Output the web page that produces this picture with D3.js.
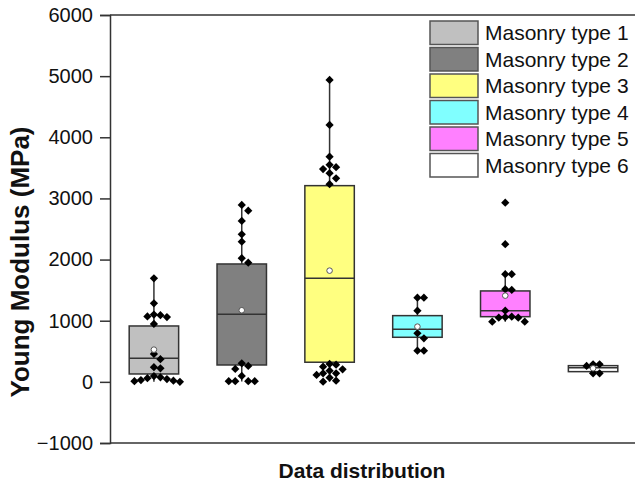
<!DOCTYPE html>
<html lang="en">
<head>
<meta charset="UTF-8">
<title>Young Modulus box chart</title>
<script src="https://d3js.org/d3.v7.min.js"></script>
<style>
  body { margin: 0; background: #fff; font-family: Arial, "Liberation Sans", sans-serif; }
  svg { display: block; }
</style>
</head>
<body>
<div id="chart"></div>
<script>
// categories and box statistics (MPa)
const types = ["Masonry type 1", "Masonry type 2", "Masonry type 3", "Masonry type 4", "Masonry type 5", "Masonry type 6"];
const q1 = [129, 276, 321, 729, 1066, 167];
const medians = [386, 1106, 1694, 860, 1165, 232];
const q3 = [914, 1928, 3209, 1083, 1487, 265];
const means = [527, 1171, 1819, 903, 1410, 222];
const whiskerLow = [0, 5, 3, 510, 985, 140];
const whiskerHigh = [1694, 2893, 4938, 1377, 1760, 288];

// raw data points
const type1Values = [1694, 1285, 1100, 1090, 1070, 1060, 947, 456, 370, 239, 222, 95, 75, 60, 45, 30, 20, 10, 0];
const type2Values = [2893, 2800, 2632, 2414, 2293, 2022, 1950, 304, 260, 211, 96, 10, 10, 10, 10];
const type3Values = [4938, 4202, 3683, 3550, 3510, 3480, 3412, 3330, 3232, 293, 280, 249, 206, 183, 140, 140, 113, 69, 20, 3];
const type4Values = [1377, 1377, 1165, 795, 713, 510, 510];
const type5Values = [2931, 2251, 1760, 1760, 1515, 1503, 1165, 1066, 1057, 1050, 1050, 985, 985];
const type6Values = [288, 288, 260, 140, 140];
const pointSets = [type1Values, type2Values, type3Values, type4Values, type5Values, type6Values];

const yTicks = [-1000, 0, 1000, 2000, 3000, 4000, 5000, 6000];
const fills = ["#c0c0c0", "#808080", "#ffff80", "#80ffff", "#ff80ff", "#ffffff"];

const width = 635, height = 483;
const plotLeft = 110, plotRight = 637, plotTop = 15, plotBottom = 443;
const ink = "#333";

const svg = d3.select("#chart").append("svg")
    .attr("width", width)
    .attr("height", height);

const x = d3.scaleBand().domain(types).range([plotLeft, plotRight]);
const y = d3.scaleLinear().domain([-1000, 6000]).range([plotBottom, plotTop]);
const boxW = x.bandwidth() * 0.563;

// frame (right side falls outside the picture)
svg.append("line").attr("x1", plotLeft).attr("x2", plotRight).attr("y1", plotTop).attr("y2", plotTop)
    .attr("stroke", ink).attr("stroke-width", 1.5);
svg.append("line").attr("x1", plotLeft).attr("x2", plotRight).attr("y1", plotBottom).attr("y2", plotBottom)
    .attr("stroke", ink).attr("stroke-width", 1.5);

const yAxis = svg.append("g")
    .attr("transform", `translate(${plotLeft},0)`)
    .call(d3.axisLeft(y).tickValues(yTicks).tickSize(10).tickPadding(7).tickFormat(d3.format("d")));
yAxis.select(".domain").attr("stroke", ink).attr("stroke-width", 1.5);
yAxis.selectAll(".tick line").attr("stroke", ink).attr("stroke-width", 1.5);
yAxis.selectAll(".tick text")
    .attr("font-size", "20px")
    .attr("font-family", "Arial, 'Liberation Sans', sans-serif")
    .attr("fill", "#111");

svg.append("text")
    .attr("transform", `translate(29,262) rotate(-90)`)
    .attr("text-anchor", "middle")
    .attr("font-size", "26px")
    .attr("font-weight", "bold")
    .attr("fill", "#111")
    .text("Young Modulus (MPa)");

svg.append("text")
    .attr("x", 362)
    .attr("y", 478)
    .attr("text-anchor", "middle")
    .attr("font-size", "21px")
    .attr("font-weight", "bold")
    .attr("fill", "#111")
    .text("Data distribution");

// simple beeswarm so that close points sit side by side
function swarm(values, cx) {
    const step = 6.5, minD = 6.5;
    const pts = values.map(v => ({ v: v, py: y(v) })).sort((a, b) => a.py - b.py);
    const placed = [];
    pts.forEach(p => {
        for (let k = 0; k < 30; k++) {
            const off = k === 0 ? 0 : (k % 2 ? 1 : -1) * Math.ceil(k / 2) * step;
            const px = cx + off;
            if (placed.every(q => Math.hypot(q.px - px, q.py - p.py) >= minD)) {
                p.px = px;
                placed.push(p);
                break;
            }
        }
    });
    return placed;
}

const diamond = d3.symbol().type(d3.symbolSquare).size(34);

types.forEach((t, i) => {
    const cx = x(t) + x.bandwidth() / 2;
    const g = svg.append("g");

    g.append("line")
        .attr("x1", cx).attr("x2", cx)
        .attr("y1", y(whiskerHigh[i])).attr("y2", y(q3[i]))
        .attr("stroke", ink).attr("stroke-width", 1.5);
    g.append("line")
        .attr("x1", cx).attr("x2", cx)
        .attr("y1", y(q1[i])).attr("y2", y(whiskerLow[i]))
        .attr("stroke", ink).attr("stroke-width", 1.5);

    g.append("rect")
        .attr("x", cx - boxW / 2)
        .attr("y", y(q3[i]))
        .attr("width", boxW)
        .attr("height", y(q1[i]) - y(q3[i]))
        .attr("fill", fills[i])
        .attr("stroke", ink)
        .attr("stroke-width", 1.5);
    g.append("line")
        .attr("x1", cx - boxW / 2).attr("x2", cx + boxW / 2)
        .attr("y1", y(medians[i])).attr("y2", y(medians[i]))
        .attr("stroke", ink).attr("stroke-width", 1.5);

    g.selectAll("path.pt")
        .data(swarm(pointSets[i], cx))
        .enter()
        .append("path")
        .attr("class", "pt")
        .attr("d", diamond)
        .attr("transform", d => `translate(${d.px},${d.py}) rotate(45)`)
        .attr("fill", "#000");

    g.append("circle")
        .attr("cx", cx)
        .attr("cy", y(means[i]))
        .attr("r", 2.8)
        .attr("fill", "#fff")
        .attr("stroke", "#555")
        .attr("stroke-width", 1);
});

// legend
const legend = svg.append("g").attr("transform", "translate(430,21)");
types.forEach((t, i) => {
    legend.append("rect")
        .attr("x", 0)
        .attr("y", i * 26.5)
        .attr("width", 48)
        .attr("height", 23.5)
        .attr("fill", fills[i])
        .attr("stroke", "#555")
        .attr("stroke-width", 1.5);
    legend.append("text")
        .attr("x", 55)
        .attr("y", i * 26.5 + 19)
        .attr("font-size", "21px")
        .attr("fill", "#111")
        .text(t);
});
</script>
</body>
</html>
